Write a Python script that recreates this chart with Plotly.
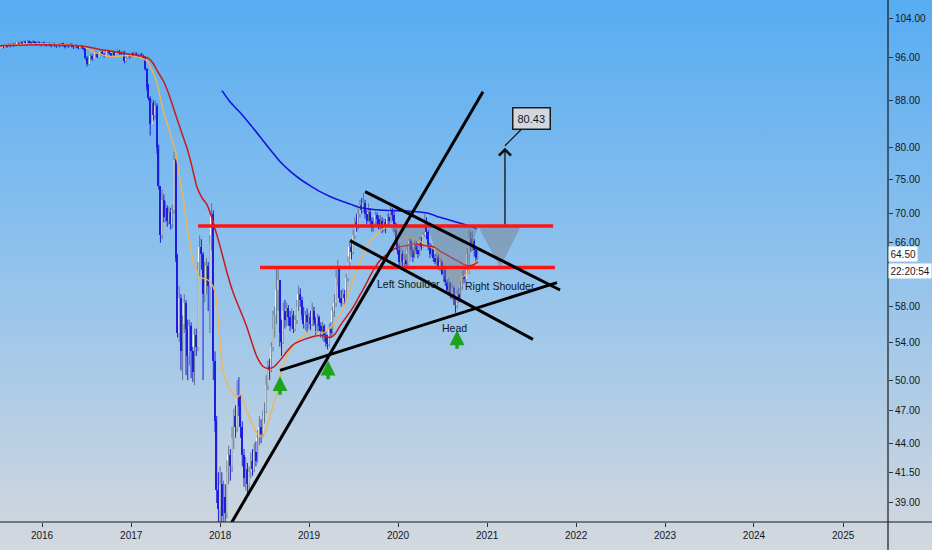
import base64
import numpy as np
import pandas as pd
import plotly.graph_objects as go

# ---------------- DATA ----------------
start_date = "2015-07-13"          # weekly candles
first_open = 97.8

close = [
 98.0, 98.3, 98.1, 98.4, 98.2, 98.5, 98.3, 98.6, 98.4, 98.7,
 98.9, 98.6, 99.0, 98.8, 99.1, 98.9, 99.2, 99.0, 98.8, 99.1,
 98.9, 98.7, 99.0, 98.8, 98.6, 98.9, 98.7, 98.5, 98.8, 98.6,
 98.4, 98.7, 98.5, 98.3, 98.6, 98.4, 98.7, 98.5, 98.2, 98.5,
 98.3, 98.6, 98.4, 98.1, 98.4, 98.2, 98.0, 98.3, 98.1, 97.8,
 96.0, 94.8, 95.8,
 96.3, 95.8, 96.5, 96.9, 96.2, 96.6, 97.1, 96.7, 96.4, 96.9,
 97.2, 96.8, 96.5, 97.0, 96.6, 96.9, 97.3, 97.0, 96.7, 97.1,
 95.4, 95.9,
 96.5, 96.1, 96.8, 96.4, 96.9, 96.5, 96.2, 96.7, 96.4, 96.0,
 93.8, 90.5, 88.5, 84.0, 87.5, 85.5, 87.0, 80.0, 74.0, 67.0,
 72.0, 69.5, 70.8, 69.0, 70.2, 68.5, 70.5, 78.0, 64.0, 55.0,
 59.0, 53.0, 56.0, 58.5, 55.5, 52.5, 55.8, 53.0, 50.8, 54.8,
 53.5, 62.5, 65.5, 64.5, 59.5, 61.5, 63.0, 60.5, 66.0, 70.0,
 52.0, 46.0, 40.0, 38.5, 40.5, 38.0, 39.5, 38.2, 41.5, 43.0,
 42.0,
 44.5, 46.5, 45.5, 48.5, 47.5, 45.5, 43.0, 41.0, 41.8, 40.5,
 41.5, 42.5, 41.8, 43.2, 42.5, 44.5, 45.5, 44.8, 46.5, 47.0,
 49.5, 51.5, 51.0, 53.5, 55.5,
 57.0, 60.0, 61.2, 55.0, 54.0, 57.5, 56.5, 57.8, 56.8, 55.8,
 57.0, 55.5, 56.5, 58.0, 59.5, 58.8, 57.0, 56.0, 57.0, 56.2,
 56.8, 56.0, 57.5, 56.5, 56.0, 56.8, 55.8, 55.2, 55.8, 54.8,
 54.0, 53.8, 55.5, 55.0, 57.5, 58.5, 61.5, 62.8, 59.0, 58.5,
 59.5, 59.0, 61.5, 63.5, 65.5, 64.8, 67.0, 68.8, 68.2, 70.0,
 71.3, 70.5, 71.5, 70.0, 69.0, 70.3, 69.0, 68.0, 68.8, 69.8,
 69.2, 68.3, 69.0, 68.0, 68.8, 68.2, 69.5, 69.0, 70.5, 69.8,
 68.5, 66.5, 65.0, 63.5, 64.5, 63.5, 63.8, 63.2, 65.0, 66.2,
 65.0, 64.2, 65.8, 65.0, 64.5, 66.2, 65.5, 67.0, 68.3, 67.5,
 65.5, 64.5, 65.3, 64.0, 63.5, 64.2, 63.0, 63.5, 62.0, 62.5,
 61.0, 60.0, 60.8, 59.5, 60.2, 58.8, 58.2, 59.5, 59.0, 60.5,
 61.8, 61.3, 62.5, 64.5, 66.5, 65.8, 66.3, 65.0, 64.0, 64.5,
]

high = [
 98.4, 98.6, 98.5, 98.7, 98.6, 98.8, 98.7, 98.9, 98.8, 99.0,
 99.2, 99.1, 99.3, 99.2, 99.4, 99.3, 99.5, 99.4, 99.2, 99.4,
 99.3, 99.1, 99.3, 99.2, 99.0, 99.2, 99.1, 98.9, 99.1, 99.0,
 98.8, 99.0, 98.9, 98.7, 98.9, 98.8, 99.0, 98.9, 98.6, 98.8,
 98.7, 98.9, 98.8, 98.5, 98.7, 98.6, 98.4, 98.6, 98.5, 98.3,
 98.1, 96.3, 96.2,
 96.7, 96.6, 96.8, 97.3, 97.1, 96.9, 97.5, 97.3, 96.9, 97.2,
 97.6, 97.4, 97.0, 97.4, 97.2, 97.2, 97.7, 97.5, 97.2, 97.4,
 97.3, 96.3,
 96.9, 96.7, 97.1, 97.0, 97.2, 97.0, 96.7, 97.0, 96.9, 96.6,
 96.3, 94.0, 91.0, 88.8, 88.3, 88.0, 88.0, 87.5, 80.5, 74.0,
 73.5, 72.8, 71.8, 71.2, 71.0, 70.8, 71.3, 79.3, 78.2, 64.5,
 60.5, 59.5, 57.0, 59.5, 58.8, 56.5, 56.5, 56.2, 53.5, 55.5,
 55.5, 63.5, 67.0, 66.5, 64.8, 63.5, 64.0, 63.5, 67.0, 71.5,
 70.5, 53.0, 46.5, 41.5, 42.0, 41.5, 40.8, 40.5, 42.5, 43.8,
 43.5,
 45.5, 47.2, 47.5, 50.0, 50.3, 48.5, 46.0, 43.5, 42.8, 42.3,
 42.0, 43.2, 43.5, 44.0, 44.2, 45.2, 46.5, 46.2, 47.0, 47.8,
 50.5, 52.0, 52.2, 54.0, 57.5,
 58.0, 62.6, 62.8, 61.0, 56.5, 58.5, 58.8, 58.5, 58.2, 57.5,
 57.8, 57.5, 57.0, 58.8, 60.5, 60.2, 59.2, 58.0, 57.5, 57.8,
 57.3, 57.5, 58.5, 58.0, 56.8, 57.2, 57.0, 56.2, 56.3, 56.0,
 55.2, 54.8, 56.0, 56.2, 58.0, 59.5, 62.5, 63.8, 63.0, 60.0,
 60.2, 60.0, 62.0, 64.2, 66.3, 66.5, 67.8, 69.5, 70.0, 70.8,
 72.0, 72.3, 73.0, 72.0, 70.5, 71.5, 70.8, 69.5, 69.5, 70.3,
 70.2, 69.8, 69.8, 69.5, 69.3, 69.3, 70.0, 70.2, 71.0, 70.8,
 70.3, 68.8, 67.0, 65.8, 65.3, 65.0, 64.5, 64.5, 65.8, 66.8,
 66.5, 65.5, 66.3, 66.2, 66.0, 66.8, 66.8, 67.5, 70.0, 69.5,
 67.8, 66.0, 65.8, 65.5, 64.5, 64.8, 64.5, 64.0, 63.8, 63.0,
 62.8, 61.3, 61.5, 61.0, 60.8, 60.5, 59.3, 60.0, 60.3, 61.0,
 62.3, 62.5, 63.2, 65.3, 67.8, 67.5, 67.5, 66.5, 65.5, 65.0,
]

low = [
 97.7, 97.9, 97.8, 98.0, 97.9, 98.1, 98.0, 98.2, 98.1, 98.3,
 98.5, 98.3, 98.5, 98.5, 98.6, 98.5, 98.7, 98.6, 98.4, 98.6,
 98.5, 98.3, 98.5, 98.4, 98.2, 98.4, 98.3, 98.1, 98.3, 98.2,
 98.0, 98.2, 98.1, 97.9, 98.1, 98.0, 98.2, 98.1, 97.8, 98.0,
 97.9, 98.1, 98.0, 97.7, 97.9, 97.8, 97.6, 97.8, 97.7, 97.4,
 95.6, 94.3, 94.6,
 95.5, 95.4, 95.6, 96.2, 95.9, 96.0, 96.3, 96.4, 96.0, 96.2,
 96.6, 96.5, 96.1, 96.3, 96.3, 96.4, 96.7, 96.6, 96.4, 96.5,
 94.9, 95.1,
 95.7, 95.8, 96.0, 96.1, 96.2, 96.2, 95.9, 96.0, 96.1, 95.6,
 93.5, 89.8, 88.0, 82.0, 84.0, 84.5, 84.8, 79.0, 73.5, 66.0,
 66.5, 68.8, 68.8, 68.2, 68.5, 67.8, 68.0, 70.0, 63.5, 54.5,
 54.0, 51.0, 50.0, 55.0, 50.5, 50.0, 51.5, 50.2, 49.8, 49.5,
 52.5, 53.0, 61.5, 62.5, 50.0, 58.5, 59.5, 57.5, 55.0, 65.0,
 50.0, 45.0, 39.0, 37.0, 36.5, 36.0, 36.8, 36.5, 37.8, 40.5,
 40.8,
 41.5, 43.5, 44.5, 45.0, 46.5, 44.5, 42.0, 40.3, 40.0, 39.8,
 40.0, 41.0, 41.2, 41.5, 42.0, 42.3, 43.8, 44.0, 44.5, 45.8,
 46.8, 49.0, 50.0, 50.8, 53.0,
 54.5, 56.0, 57.5, 53.5, 52.5, 53.8, 55.5, 55.8, 55.8, 55.2,
 55.5, 55.0, 55.2, 56.0, 57.5, 58.0, 56.5, 55.5, 55.3, 55.0,
 55.5, 55.3, 55.8, 55.8, 54.8, 55.0, 55.2, 54.5, 54.2, 54.0,
 53.5, 53.2, 53.5, 54.5, 54.8, 56.8, 58.0, 60.5, 58.5, 58.0,
 58.3, 58.2, 58.8, 61.0, 63.0, 63.8, 64.5, 66.5, 67.5, 67.8,
 69.5, 70.0, 70.2, 69.3, 68.5, 68.8, 68.2, 67.5, 67.5, 68.3,
 68.5, 67.8, 67.5, 67.3, 67.5, 67.3, 68.0, 68.3, 68.8, 69.0,
 67.5, 65.8, 64.5, 63.0, 63.0, 63.0, 62.7, 62.8, 63.0, 64.5,
 64.2, 63.5, 64.0, 64.5, 64.0, 64.3, 65.0, 65.3, 66.8, 66.5,
 65.0, 64.0, 64.2, 63.5, 63.2, 63.0, 62.5, 62.3, 61.8, 61.0,
 60.5, 59.5, 59.3, 59.0, 58.8, 58.2, 57.3, 57.8, 58.5, 58.8,
 60.0, 60.8, 61.0, 62.0, 62.0, 64.8, 65.0, 64.2, 63.5, 63.8,
]

# moving averages: (week offset from start_date, value)
fast_ma_week = [0, 23.4, 48.7, 49.8, 55.7, 64.5, 74.4, 82.1, 86.2, 89.1, 92.0, 95.5,
                99.6, 102.6, 105.5, 108.4, 109.6, 111.4, 113.1, 114.3, 117.2, 120.2,
                123.1, 126.0, 127.8, 130.7, 134.8, 138.9, 141.3, 143.6, 146.5, 150.6,
                153.6, 157.1, 159.4, 162.4, 165.3, 168.2, 174.1, 181.7, 189.3, 193.4,
                199.3, 203.4, 206.9, 211.0, 216.9, 224.5, 230.4, 236.2, 244.4, 250.3,
                256.2, 262.0, 267.9, 272.6, 276.7, 280.2]
fast_ma = [98.3, 98.7, 98.2, 98.0, 97.0, 96.2, 96.4, 96.0, 95.3, 93.6, 91.2, 86.4,
           82.5, 79.7, 75.0, 70.5, 68.0, 65.9, 63.5, 62.9, 61.5, 61.4,
           61.0, 59.8, 56.7, 51.0, 49.0, 48.3, 48.6, 47.4, 46.2, 44.9,
           44.6, 45.8, 47.1, 48.8, 51.1, 52.6, 54.1, 55.2, 55.0, 55.6,
           57.0, 59.0, 61.2, 63.6, 66.2, 67.9, 68.2, 67.0, 66.4, 65.7,
           64.9, 63.0, 61.4, 61.8, 63.0, 63.7]

mid_ma_week = [0, 23.4, 48.7, 58.6, 70.3, 83.8, 86.8, 89.7, 92.6, 95.5, 98.5, 101.4,
               104.3, 107.3, 110.2, 112.5, 115.5, 118.4, 121.3, 124.3, 126.0, 127.8,
               130.1, 133.1, 136.6, 139.5, 142.4, 144.8, 147.7, 150.6, 154.2, 157.1,
               160.0, 162.4, 165.3, 168.2, 171.7, 175.8, 181.7, 185.8, 189.3, 193.4,
               196.4, 199.3, 202.2, 205.2, 208.1, 211.0, 214.0, 216.9, 219.8, 222.7,
               225.7, 228.6, 232.7, 237.4, 243.3, 250.3, 255.0, 257.9, 262.0, 266.7,
               270.8, 274.3, 277.3, 280.2]
mid_ma = [98.3, 98.5, 98.2, 97.6, 97.0, 96.2, 95.9, 94.9, 93.2, 91.7, 89.5, 86.9,
          84.3, 81.8, 79.4, 77.0, 73.8, 72.3, 71.3, 69.3, 67.9, 66.5,
          64.6, 62.1, 59.7, 58.2, 56.8, 55.6, 53.9, 52.4, 51.4, 51.2,
          51.3, 51.7, 52.3, 53.0, 53.7, 54.1, 54.5, 54.7, 54.7, 54.5,
          54.9, 55.8, 56.6, 57.4, 58.3, 59.4, 60.5, 61.7, 62.8, 63.7,
          64.3, 64.8, 65.4, 65.6, 65.8, 65.6, 65.4, 64.9, 64.4, 63.8,
          63.3, 63.0, 63.1, 63.5]

slow_ma_week = [130.1, 134.8, 140.7, 146.5, 152.4, 158.3, 164.1, 170.0, 175.8, 181.7,
                187.6, 193.4, 199.3, 205.2, 211.0, 224.5, 238.6, 250.3, 257.9, 263.8,
                273.7, 279.6]
slow_ma = [89.8, 87.8, 85.9, 83.9, 81.8, 79.7, 77.8, 76.3, 75.1, 74.1,
           73.2, 72.5, 71.9, 71.4, 70.9, 70.5, 70.4, 70.1, 69.5, 69.1,
           68.4, 67.9]

# drawings (week offset, price)
neck_high_week, neck_high_price = [116.1, 324.2], [68.3, 68.3]
neck_low_week, neck_low_price = [152.4, 325.3], [62.8, 62.8]
uptrend_week, uptrend_price = [134.2, 283.1], [37.15, 89.6]
support_week, support_price = [164.1, 326.5], [51.0, 60.9]
chan_top_week, chan_top_price = [214.0, 328.3], [73.2, 60.0]
chan_bot_week, chan_bot_price = [205.2, 312.4], [66.3, 54.3]
ls_tri_week, ls_tri_price = [228.6, 249.7, 239.2], [68.3, 68.3, 63.0]
head_tri_week, head_tri_price = [250.3, 280.2, 266.7], [68.3, 68.3, 57.9]
rs_tri_week, rs_tri_price = [280.2, 305.4, 293.1], [68.3, 68.3, 62.8]
target_week, target_base, target_top, target_label = 296.0, 68.3, 80.0, "80.43"
green_arrow_week = [164.1, 192.3, 267.9]
green_arrow_price = [50.4, 52.0, 55.3]
pattern_labels = ["Left Shoulder", "Right Shoulder", "Head"]
pattern_label_week = [239.2, 293.1, 266.7]
pattern_label_price = [60.75, 60.5, 55.6]
last_price_text, last_time_text = "64.50", "22:20:54"

year_ticks = list(range(2016, 2026))
price_ticks = [39, 41.5, 44, 47, 50, 54, 58, 66, 70, 75, 80, 88, 96, 104]

# ---------------- BUILD ----------------
t0 = pd.Timestamp(start_date)
def wk(w):
    return t0 + pd.to_timedelta(np.asarray(w, dtype=float) * 7, unit="D")

n = len(close)
dates = pd.date_range(start_date, periods=n, freq="7D")
opens = [first_open] + close[:-1]
hi = [max(h, o, c) for h, o, c in zip(high, opens, close)]
lo = [min(l, o, c) for l, o, c in zip(low, opens, close)]
up = [c >= o for o, c in zip(opens, close)]

FONT = "Liberation Sans, Arial, sans-serif"
UP_WICK, DOWN_COL, UP_COL = "#66768a", "#1d1fe0", "#ffffff"
fig = go.Figure()

# wicks (grey for rising candles, blue for falling ones)
for is_up, col in [(True, UP_WICK), (False, DOWN_COL)]:
    wx, wy = [], []
    for d, h, l, u in zip(dates, hi, lo, up):
        if u == is_up:
            wx += [d, d, None]
            wy += [l, h, None]
    fig.add_trace(go.Scatter(x=wx, y=wy, mode="lines", line=dict(color=col, width=1),
                             hoverinfo="skip", showlegend=False))
# bodies
body_w = 6.3 * 24 * 3600 * 1000
for is_up, col in [(True, UP_COL), (False, DOWN_COL)]:
    xs = [d for d, u in zip(dates, up) if u == is_up]
    bs = [min(o, c) for o, c, u in zip(opens, close, up) if u == is_up]
    hs = [max(abs(c - o), 0.08) for o, c, u in zip(opens, close, up) if u == is_up]
    fig.add_trace(go.Bar(x=xs, y=hs, base=bs, width=body_w, marker=dict(color=col, line=dict(width=0)),
                         hoverinfo="skip", showlegend=False))

fig.add_trace(go.Scatter(x=wk(fast_ma_week), y=fast_ma, mode="lines",
                         line=dict(color="rgba(245,180,75,0.9)", width=1.5, shape="spline", smoothing=0.7),
                         hoverinfo="skip", showlegend=False))
fig.add_trace(go.Scatter(x=wk(mid_ma_week), y=mid_ma, mode="lines",
                         line=dict(color="#c81a1a", width=1.5, shape="spline", smoothing=0.7),
                         hoverinfo="skip", showlegend=False))
fig.add_trace(go.Scatter(x=wk(slow_ma_week), y=slow_ma, mode="lines",
                         line=dict(color="#1515dc", width=1.6, shape="spline", smoothing=0.7),
                         hoverinfo="skip", showlegend=False))

# triangles
for tw, tp in [(ls_tri_week, ls_tri_price), (head_tri_week, head_tri_price), (rs_tri_week, rs_tri_price)]:
    fig.add_trace(go.Scatter(x=wk(tw + tw[:1]), y=tp + tp[:1], mode="lines", fill="toself",
                             fillcolor="rgba(120,130,145,0.5)", line=dict(width=0),
                             hoverinfo="skip", showlegend=False))

# neckline levels
for lw, lp in [(neck_high_week, neck_high_price), (neck_low_week, neck_low_price)]:
    fig.add_trace(go.Scatter(x=wk(lw), y=lp, mode="lines", line=dict(color="#ff1414", width=3.5),
                             hoverinfo="skip", showlegend=False))
# trend lines
for lw, lp in [(uptrend_week, uptrend_price), (support_week, support_price),
               (chan_top_week, chan_top_price), (chan_bot_week, chan_bot_price)]:
    fig.add_trace(go.Scatter(x=wk(lw), y=lp, mode="lines", line=dict(color="#000000", width=3),
                             hoverinfo="skip", showlegend=False))

annotations = []
# target arrow
tx = wk([target_week])[0]
annotations.append(dict(x=tx, y=np.log10(target_top), xref="x", yref="y", text="",
                        showarrow=True, ax=0, ay=78, arrowhead=4, arrowsize=1.8,
                        arrowwidth=1.3, arrowcolor="#111111", standoff=0))
annotations.append(dict(x=tx, y=np.log10(target_top * 1.004), xref="x", yref="y",
                        text=target_label, showarrow=True, ax=27, ay=-27, arrowhead=0,
                        arrowwidth=1.2, arrowcolor="#111111",
                        bgcolor="#d3d7dd", bordercolor="#1a1a1a", borderwidth=1.5, borderpad=4,
                        font=dict(family=FONT, size=11, color="#131722")))
# green arrows
for gw, gp in zip(green_arrow_week, green_arrow_price):
    annotations.append(dict(x=wk([gw])[0], y=np.log10(gp), xref="x", yref="y", text="",
                            showarrow=True, ax=0, ay=20, arrowhead=2, arrowsize=0.85,
                            arrowwidth=3.5, arrowcolor="#1fa31f", standoff=0))
# pattern labels
for t, lw, lp in zip(pattern_labels, pattern_label_week, pattern_label_price):
    annotations.append(dict(x=wk([lw])[0], y=np.log10(lp), xref="x", yref="y", text=t,
                            showarrow=False, font=dict(family=FONT, size=10.5, color="#0e1822")))
# last price labels
annotations.append(dict(x=1, y=np.log10(64.5), xref="paper", yref="y", text=last_price_text,
                        showarrow=False, xanchor="left", xshift=0, bgcolor="#ffffff", borderpad=1.5,
                        font=dict(family=FONT, size=10, color="#131722")))
annotations.append(dict(x=1, y=np.log10(64.5), xref="paper", yref="y", text=last_time_text,
                        showarrow=False, xanchor="left", xshift=0, yshift=-17, bgcolor="#ffffff", borderpad=1.5,
                        font=dict(family=FONT, size=10, color="#131722")))

# background gradient
W, H, ML, MR, MT, MB = 932, 550, 0, 44, 0, 28
pw, ph = W - ML - MR, H - MT - MB
svg = ('<svg xmlns="http://www.w3.org/2000/svg" width="100" height="100" preserveAspectRatio="none">'
       '<defs><linearGradient id="g" x1="0" y1="0" x2="0" y2="1">'
       '<stop offset="0" stop-color="#57acf2"/><stop offset="0.5" stop-color="#93c3ec"/>'
       '<stop offset="1" stop-color="#d4d8de"/></linearGradient></defs>'
       '<rect width="100" height="100" fill="url(#g)"/></svg>')
src = "data:image/svg+xml;base64," + base64.b64encode(svg.encode()).decode()

axis_font = dict(family=FONT, size=10, color="#131722")

fig.update_layout(
    width=W, height=H, margin=dict(l=ML, r=MR, t=MT, b=MB),
    paper_bgcolor="#9cc6ea", plot_bgcolor="rgba(0,0,0,0)",
    showlegend=False, hovermode=False, barmode="overlay", bargap=0,
    images=[dict(source=src, xref="paper", yref="paper", x=-ML / pw, y=1 + MT / ph,
                 sizex=W / pw, sizey=H / ph, xanchor="left", yanchor="top",
                 sizing="stretch", layer="below")],
    xaxis=dict(type="date", range=["2015-07-12 14:00", "2025-07-04"],
               rangeslider=dict(visible=False), showgrid=False, zeroline=False,
               tickvals=[f"{y}-01-01" for y in year_ticks], ticktext=[str(y) for y in year_ticks],
               ticks="outside", ticklen=4, tickcolor="#333333", tickfont=axis_font, showline=False),
    yaxis=dict(type="log", side="right", range=[1.57437, 2.03284], showgrid=False, zeroline=False,
               tickvals=price_ticks, ticktext=[f"{v:.2f}" for v in price_ticks],
               ticks="outside", ticklen=4, tickcolor="#333333", tickfont=axis_font, showline=False),
    annotations=annotations,
    shapes=[
        dict(type="line", xref="paper", yref="paper", x0=0, x1=W / pw, y0=0, y1=0,
             line=dict(color="#1a1a1a", width=1.2)),
        dict(type="line", xref="paper", yref="paper", x0=1, x1=1, y0=-MB / ph, y1=1,
             line=dict(color="#1a1a1a", width=1.2)),
    ],
)

fig.write_html("out.html", config={"displayModeBar": False},
               post_script="document.body.style.margin='0';document.body.style.overflow='hidden';")
